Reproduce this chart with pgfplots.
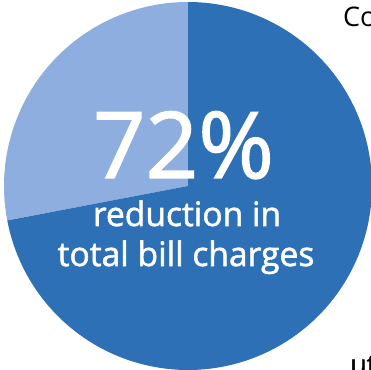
\documentclass[border=0pt]{standalone}
\usepackage{pgfplots}
\pgfplotsset{compat=1.18}
\usepackage{pgfplotstable}
\usepackage{fontspec}
\setmainfont{Open Sans}
\newfontfamily\semifont{Open Sans}[FakeBold=1.6]
\definecolor{darkblue}{RGB}{46,112,182}
\definecolor{lightblue}{RGB}{142,174,223}
\pgfplotstableread{
label share
reduction 72
remaining 28
}\piedata
\pgfplotstablegetelem{0}{share}\of\piedata \let\shareA\pgfplotsretval
\pgfplotstablegetelem{1}{share}\of\piedata \let\shareB\pgfplotsretval
\begin{document}
\begin{tikzpicture}
\begin{axis}[x=1pt,y=1pt,xmin=-188,xmax=183,ymin=-183,ymax=186,
  hide axis, clip=false]
\addplot[fill=lightblue, draw=none, domain=0:\shareB, samples=100, variable=\t]
  ({184*cos(90+3.6*\t)},{184*sin(90+3.6*\t)}) -- (axis cs:0,0) -- cycle;
\addplot[fill=darkblue, draw=none, domain=\shareB:100, samples=250, variable=\t]
  ({184*cos(90+3.6*\t)},{184*sin(90+3.6*\t)}) -- (axis cs:0,0) -- cycle;
\node[anchor=base, text=white, font=\semifont\fontsize{92}{92}\selectfont, inner sep=0pt] at (axis cs:-4.5,8) {\shareA\%};
\node[anchor=base, text=white, font=\semifont\fontsize{33.6}{40}\selectfont, inner sep=0pt] at (axis cs:-1,-40) {reduction in};
\node[anchor=base, text=white, font=\semifont\fontsize{33.6}{40}\selectfont, inner sep=0pt] at (axis cs:-2,-80) {total bill charges};
\node[anchor=base west, text=black, font=\fontsize{27}{27}\selectfont, inner sep=0pt] at (axis cs:155,159) {Co};
\node[anchor=base west, text=black, font=\semifont\fontsize{27}{27}\selectfont, inner sep=0pt] at (axis cs:162,-188) {ut};
\end{axis}
\pgfresetboundingbox
\useasboundingbox (current axis.south west) rectangle (current axis.north east);
\end{tikzpicture}
\end{document}
